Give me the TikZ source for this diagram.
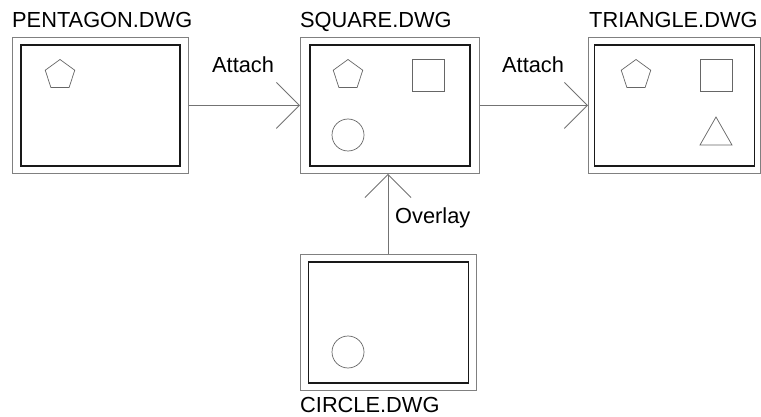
\documentclass[tikz,border=0pt]{standalone}
\usepackage{fontspec}
\setmainfont{Liberation Sans}
\usetikzlibrary{arrows.meta,shapes.geometric}
\begin{document}
\begin{tikzpicture}[x=1pt,y=-1pt,
  outerbox/.style={draw=black!50,line width=0.9pt,minimum width=#1,minimum height=136pt,inner sep=0pt,anchor=north west},
  innerbox/.style={draw=black!90,line width=1.8pt,minimum width=#1,minimum height=121pt,inner sep=0pt},
  shp/.style={draw=black!60,line width=0.7pt},
  lbl/.style={font=\fontsize{21.8}{25}\selectfont,inner sep=0pt,anchor=base west},
  conn/.style={draw=black!55,line width=0.9pt,-{Straight Barb[length=23pt,width=46pt,line width=0.9pt]}}]
\useasboundingbox (0,0) rectangle (761,417);
% boxes
\node[outerbox=176pt] (pento) at (12,37) {};
\node[innerbox=159pt] (pentin) at (pento.center) {};
\node[outerbox=179pt] (squo) at (300,37) {};
\node[innerbox=160pt] (squin) at (squo.center) {};
\node[outerbox=172pt] (trio) at (588,37) {};
\node[innerbox=160pt] (triin) at (trio.center) {};
\node[outerbox=176pt] (ciro) at (300,254) {};
\node[innerbox=160pt] (cirin) at (ciro.center) {};
% titles
\node[lbl] (t1) at (12,28) {PENTAGON.DWG};
\node[lbl] (t2) at (300,28) {SQUARE.DWG};
\node[lbl] (t3) at (589,28) {TRIANGLE.DWG};
\node[lbl] (t4) at (300,412) {CIRCLE.DWG};
% contents
\node[shp,regular polygon,regular polygon sides=5,minimum size=31pt,inner sep=0pt] (p1) at (60,75) {};
\node[shp,regular polygon,regular polygon sides=5,minimum size=31pt,inner sep=0pt] (p2) at (348,75) {};
\node[shp,minimum size=32pt,inner sep=0pt] (s2) at (428,75) {};
\node[shp,circle,minimum size=32pt,inner sep=0pt] (c2) at (348,135) {};
\node[shp,regular polygon,regular polygon sides=5,minimum size=31pt,inner sep=0pt] (p3) at (636,75) {};
\node[shp,minimum size=32pt,inner sep=0pt] (s3) at (716,75) {};
\coordinate (ta) at (716,117);
\coordinate (tb) at (732,145);
\coordinate (tc) at (700,145);
\draw[shp] (ta) -- (tb) -- (tc) -- cycle;
\node[shp,circle,minimum size=32pt,inner sep=0pt] (c4) at (348,352) {};
% connectors
\draw[conn] (pento.east) -- (squo.west);
\draw[conn] (squo.east) -- (trio.west);
\draw[conn] (ciro.north -| 388,0) -- (squo.south -| 388,0);
\node[lbl] (a1) at (212,73) {Attach};
\node[lbl] (a2) at (502,73) {Attach};
\node[lbl] (o1) at (395,223) {Overlay};
\end{tikzpicture}
\end{document}
